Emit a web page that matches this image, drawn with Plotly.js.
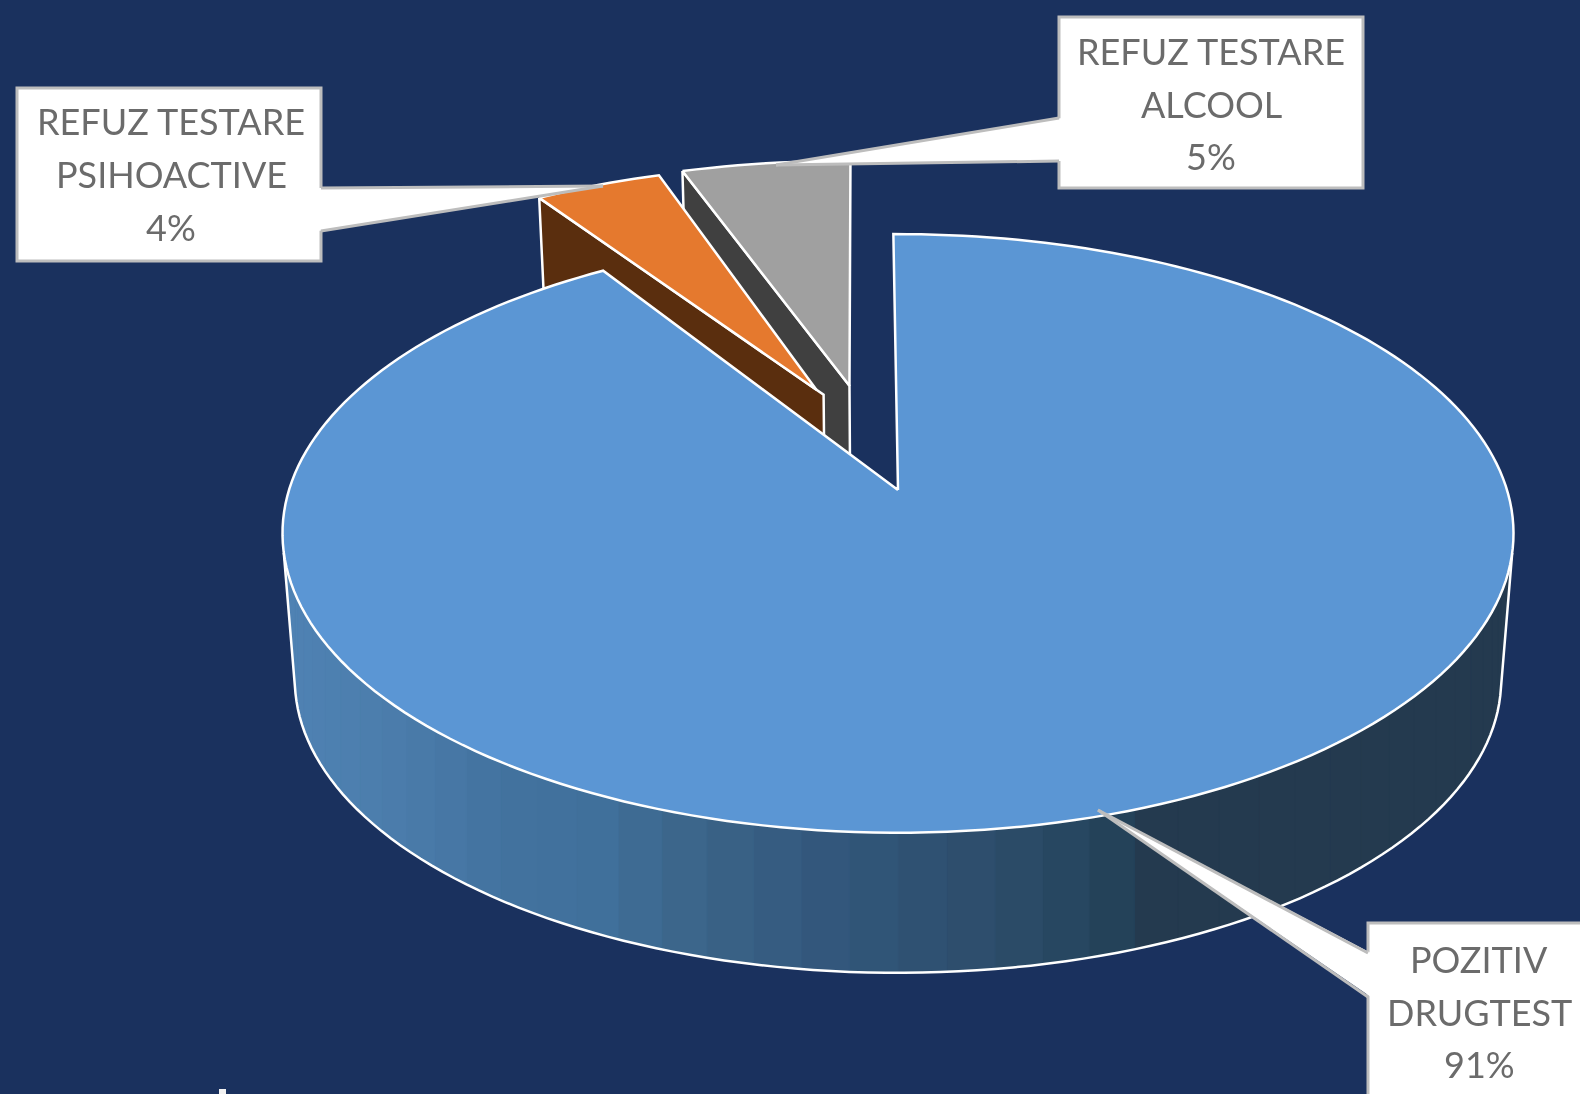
<!DOCTYPE html>
<html>
<head>
<meta charset="utf-8">
<script src="https://cdn.plot.ly/plotly-3.0.1.min.js"></script>
<style>html,body{margin:0;padding:0;background:#1a315e;overflow:hidden}#chart{width:1580px;height:1094px;filter:blur(0.6px)}</style>
</head>
<body>
<div id="chart"></div>
<script>
// ---- chart data ----
const categories = ["POZITIV DRUGTEST", "REFUZ TESTARE PSIHOACTIVE", "REFUZ TESTARE ALCOOL"];
const categoryLines = [["POZITIV", "DRUGTEST"], ["REFUZ TESTARE", "PSIHOACTIVE"], ["REFUZ TESTARE", "ALCOOL"]];
const values = [91, 4, 5];

// ---- slice styling ----
const topColors = ["#5b96d4", "#e5792e", "#a0a0a0"];
const cutColors = ["#5b96d4", "#5a2e0e", "#404040"];
const explodeU = [0, -0.141, -0.084];
const explodeV = [0, 0.36, 0.375];
const scaleU = [1, 0.995, 1.06];
const scaleV = [1, 0.965, 0.968];
const turn = [0, -0.5, 0];
const apexExtend = [0, 0.026, 0];
const wallStopX = [290, 400, 500, 600, 700, 800, 900, 1000, 1100, 1150, 1520];
const wallStopC = ["#4f82b3", "#4b7cab", "#43739f", "#40709b", "#3b6488", "#34597f", "#2f5374", "#2d4c6a", "#24455c", "#243a4f", "#243a4f"];

// ---- label boxes (in picture units) ----
const boxes = [[1368, 923, 1590, 1104], [17, 88, 321, 261], [1059, 17, 1363, 188]];
const tails = [[[1368, 953], [1098, 810], [1368, 997]], [[321, 188], [603, 186], [321, 231]], [[1059, 118], [776, 165], [1059, 161]]];
const labelX = [1479, 171, 1211];
const labelY = [[959, 1012, 1064], [121, 174, 227], [51, 104, 156]];

// ---- projection of the tilted disc ----
const cx = 898, cy = 490, ra = 609, rk = 293, persp = 0.145, rot = -0.5, lowS = 0.98, lowH = 147, hiddenY = 533;
const rad = d => d * Math.PI / 180;
function proj(u, v) { const w = 1 + persp * v; return [cx + ra * u / w, cy - rk * v / w]; }
function low(p) { return [cx + lowS * (p[0] - cx), cy + lowH + lowS * (p[1] - cy)]; }
function rim(d) { return proj(Math.sin(rad(d)), Math.cos(rad(d))); }

function lerpColor(x) {
  let i = 0;
  while (i < wallStopX.length - 2 && x > wallStopX[i + 1]) i++;
  const t = Math.min(1, Math.max(0, (x - wallStopX[i]) / (wallStopX[i + 1] - wallStopX[i])));
  const a = wallStopC[i], b = wallStopC[i + 1], out = [];
  for (let k = 1; k < 7; k += 2) {
    const p = parseInt(a.substr(k, 2), 16), q = parseInt(b.substr(k, 2), 16);
    out.push(Math.round(p + (q - p) * t));
  }
  return `rgb(${out.join(",")})`;
}
function poly(pts, fill, lineW, lineC) {
  const xs = pts.map(p => p[0]), ys = pts.map(p => p[1]);
  return { type: "scatter", mode: "lines", x: xs, y: ys, fill: fill ? "toself" : "none", fillcolor: fill || undefined,
           line: { color: lineC || "#ffffff", width: lineW, simplify: false }, hoverinfo: "skip", showlegend: false };
}

const traces = [];
const total = values.reduce((a, b) => a + b, 0);
const sweeps = values.map(v => v / total * 360);

const start = [rot, rot + sweeps[0], rot + sweeps[0] + sweeps[1]];
function slicePts(i) {
  const pts = [], n = Math.ceil(sweeps[i] / 1.5);
  for (let k = 0; k <= n; k++) {
    const d = start[i] + turn[i] + sweeps[i] * k / n;
    pts.push(proj(Math.sin(rad(d)) * scaleU[i] + explodeU[i], Math.cos(rad(d)) * scaleV[i] + explodeV[i]));
  }
  return { arc: pts, apex: proj(explodeU[i], explodeV[i]) };
}

// small slices: the cut walls, then the top faces (grey behind orange)
[2, 1].forEach(i => {
  const s = slicePts(i), outer = s.arc[0];
  const e = apexExtend[i];
  const a = [s.apex[0] + e * (s.apex[0] - outer[0]), s.apex[1] + e * (s.apex[1] - outer[1])];
  traces.push(poly([outer, a, low(a), low(outer), outer], cutColors[i], 2.5));
  traces.push(poly([...s.arc, s.apex, s.arc[0]], topColors[i], 2.5));
});

// outer wall of the main slice: vertical bands hanging from under the top face
const rimFrom = 100, rimTo = 260, rimStep = 4, tangentR = 102, tangentL = 258;
traces.push(poly([rim(tangentL), low(rim(rimTo)), [low(rim(rimTo))[0], hiddenY], rim(tangentL)], wallStopC[0], 0.5, wallStopC[0]));
traces.push(poly([rim(tangentR), low(rim(rimFrom)), [low(rim(rimFrom))[0], hiddenY], rim(tangentR)], wallStopC[wallStopC.length - 1], 0.5, wallStopC[wallStopC.length - 1]));
for (let d = rimFrom; d < rimTo; d += rimStep) {
  const a = low(rim(d)), b = low(rim(d + rimStep));
  const c = lerpColor((a[0] + b[0]) / 2);
  traces.push(poly([a, b, [b[0], hiddenY], [a[0], hiddenY], a], c, 1, c));
}
const lowRim = [];
for (let d = rimFrom; d <= rimTo; d += 1.5) lowRim.push(low(rim(d)));
traces.push(poly([rim(tangentR), ...lowRim, rim(tangentL)], null, 2.5));

// top face of the main slice
const m = slicePts(0);
traces.push(poly([m.apex, ...m.arc, m.apex], topColors[0], 2.5));

// ---- label boxes and callouts ----
const shapes = [];
const GREY = "#bdbdbd";
boxes.forEach((b, i) => {
  shapes.push({ type: "rect", xref: "x", yref: "y", x0: b[0], y0: b[1], x1: b[2], y1: b[3], fillcolor: "#ffffff", line: { color: GREY, width: 3 } });
  const t = tails[i];
  const dir = t[1][0] < t[0][0] ? 3 : -3;
  shapes.push({ type: "path", xref: "x", yref: "y", path: `M ${t[0][0] + dir} ${t[0][1]} L ${t[1][0]} ${t[1][1]} L ${t[2][0] + dir} ${t[2][1]} Z`, fillcolor: "#ffffff", line: { width: 0 } });
  [t[0], t[2]].forEach(p => shapes.push({ type: "line", xref: "x", yref: "y", x0: p[0], y0: p[1], x1: t[1][0], y1: t[1][1], line: { color: GREY, width: 3 } }));
});
// small fragment of white text at the bottom edge
shapes.push({ type: "rect", xref: "x", yref: "y", x0: 219, y0: 1089, x1: 226, y1: 1096, fillcolor: "#f2f2f2", line: { width: 0 } });

const annotations = [];
categories.forEach((c, i) => {
  const lines = [...categoryLines[i], values[i] + "%"];
  lines.forEach((txt, j) => annotations.push({
    xref: "x", yref: "y", x: labelX[i], y: labelY[i][j], text: txt, showarrow: false,
    xanchor: "center", yanchor: "middle",
    font: { family: "Lato, 'Open Sans', sans-serif", size: 36, color: "#6b6b6b" }
  }));
});

Plotly.newPlot("chart", traces, {
  width: 1580, height: 1094,
  margin: { l: 0, r: 0, t: 0, b: 0 },
  paper_bgcolor: "#1a315e", plot_bgcolor: "#1a315e",
  showlegend: false,
  xaxis: { range: [0, 1580], visible: false, fixedrange: true },
  yaxis: { range: [1094, 0], visible: false, fixedrange: true },
  shapes, annotations
}, { displayModeBar: false, staticPlot: true });
</script>
</body>
</html>
